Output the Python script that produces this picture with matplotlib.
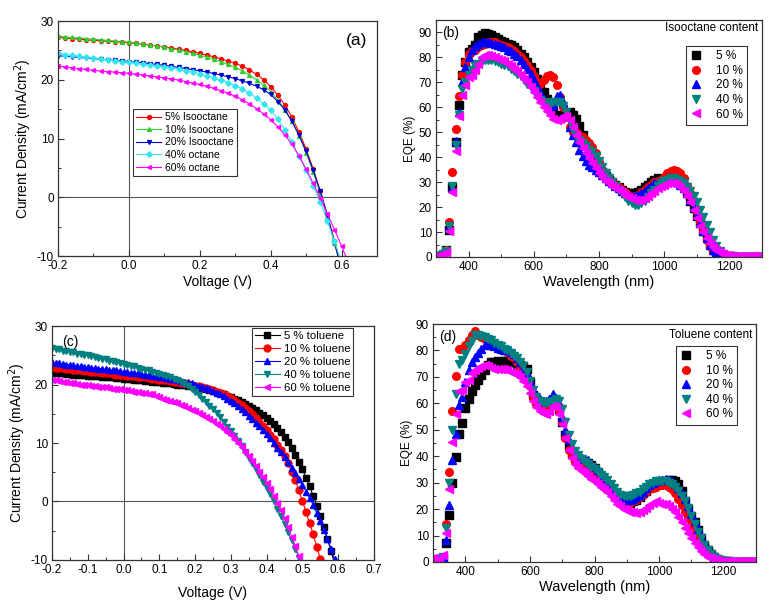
import numpy as np
import matplotlib
matplotlib.use('Agg')
import matplotlib.pyplot as plt
from matplotlib.ticker import MultipleLocator

plt.rcParams['font.family'] = ['Liberation Sans', 'DejaVu Sans']
plt.rcParams['axes.unicode_minus'] = False

# ---------------- panel (a): J-V, isooctane ----------------
volt_a = np.linspace(-0.2, 0.62, 42)
labels_a = ['5% Isooctane', '10% Isooctane', '20% Isooctane', '40% octane', '60% octane']
jv_a_5 = [27.2, 27.1, 27.0, 26.9, 26.8, 26.7, 26.65, 26.55, 26.5, 26.4,
          26.3, 26.2, 26.05, 25.9, 25.75, 25.6, 25.4, 25.2, 25.0, 24.75,
          24.5, 24.2, 23.9, 23.55, 23.2, 22.8, 22.3, 21.7, 20.9, 20.0,
          18.8, 17.4, 15.7, 13.6, 11.1, 8.2, 4.8, 1.0, -3.0, -7.4,
          -12.0, -16.8]
jv_a_10 = [27.4, 27.3, 27.2, 27.1, 27.0, 26.9, 26.8, 26.7, 26.6, 26.5,
           26.4, 26.25, 26.1, 25.95, 25.75, 25.55, 25.3, 25.05, 24.8, 24.5,
           24.2, 23.85, 23.5, 23.1, 22.6, 22.1, 21.5, 20.8, 20.0, 19.1,
           18.0, 16.6, 14.9, 12.9, 10.5, 7.6, 4.3, 0.6, -3.4, -7.8,
           -12.4, -17.2]
jv_a_20 = [24.1, 24.0, 23.9, 23.8, 23.7, 23.6, 23.5, 23.4, 23.3, 23.2,
           23.1, 23.0, 22.9, 22.75, 22.6, 22.45, 22.3, 22.1, 21.9, 21.7,
           21.5, 21.3, 21.05, 20.8, 20.5, 20.2, 19.8, 19.4, 18.9, 18.3,
           17.5, 16.3, 14.9, 12.9, 10.6, 7.8, 4.6, 1.0, -3.1, -7.7,
           -12.5, -17.5]
jv_a_40 = [24.5, 24.3, 24.15, 24.0, 23.85, 23.7, 23.55, 23.4, 23.25, 23.1,
           22.95, 22.8, 22.65, 22.5, 22.35, 22.2, 22.0, 21.8, 21.55, 21.3,
           21.0, 20.7, 20.35, 19.95, 19.5, 19.0, 18.4, 17.7, 16.9, 15.9,
           14.8, 13.3, 11.5, 9.4, 7.0, 4.6, 2.0, -0.8, -4.0, -7.5,
           -11.2, -15.0]
jv_a_60 = [22.3, 22.2, 22.05, 21.9, 21.75, 21.6, 21.5, 21.4, 21.3, 21.2,
           21.1, 20.95, 20.8, 20.65, 20.5, 20.35, 20.15, 19.95, 19.7, 19.45,
           19.2, 18.9, 18.55, 18.15, 17.7, 17.2, 16.6, 15.9, 15.1, 14.2,
           13.2, 12.0, 10.6, 9.0, 7.0, 4.8, 2.4, -0.2, -2.8, -5.5,
           -8.3, -11.3]

# ---------------- panel (c): J-V, toluene ----------------
volt_c = np.linspace(-0.2, 0.6, 81)
labels_c = ['5 % toluene', '10 % toluene', '20 % toluene', '40 % toluene', '60 % toluene']
jv_c_5 = [22.0, 22.0, 21.9, 21.9, 21.8, 21.8, 21.7, 21.7, 21.6, 21.6,
          21.5, 21.5, 21.4, 21.4, 21.3, 21.3, 21.2, 21.2, 21.1, 21.1,
          21.0, 20.95, 20.9, 20.85, 20.8, 20.7, 20.65, 20.6, 20.5, 20.45,
          20.4, 20.3, 20.25, 20.2, 20.1, 20.0, 19.95, 19.9, 19.8, 19.7,
          19.6, 19.5, 19.4, 19.3, 19.1, 18.9, 18.7, 18.5, 18.3, 18.1,
          17.8, 17.6, 17.3, 17.0, 16.7, 16.4, 16.0, 15.6, 15.2, 14.8,
          14.3, 13.8, 13.2, 12.5, 11.8, 11.0, 10.1, 9.1, 8.0, 6.8,
          5.5, 4.1, 2.6, 1.0, -0.7, -2.5, -4.4, -6.4, -8.5, -10.7,
          -13.0]
jv_c_10 = [23.0, 22.9, 22.8, 22.8, 22.7, 22.6, 22.5, 22.5, 22.4, 22.3,
           22.3, 22.2, 22.1, 22.1, 22.0, 21.9, 21.9, 21.8, 21.7, 21.7,
           21.6, 21.5, 21.5, 21.4, 21.3, 21.2, 21.2, 21.1, 21.0, 20.9,
           20.8, 20.8, 20.7, 20.6, 20.5, 20.4, 20.3, 20.2, 20.1, 20.0,
           19.8, 19.7, 19.5, 19.4, 19.2, 19.0, 18.8, 18.6, 18.3, 18.0,
           17.7, 17.3, 16.9, 16.5, 16.0, 15.5, 14.9, 14.3, 13.6, 12.9,
           12.2, 11.4, 10.6, 9.7, 8.8, 7.7, 6.5, 5.1, 3.6, 1.9,
           0.1, -1.8, -3.7, -5.6, -7.7, -9.8, -12.0, -14.2, -16.4, -18.6,
           -20.8]
jv_c_20 = [23.8, 23.7, 23.6, 23.5, 23.4, 23.4, 23.3, 23.2, 23.1, 23.0,
           23.0, 22.9, 22.8, 22.7, 22.7, 22.6, 22.5, 22.4, 22.4, 22.3,
           22.2, 22.1, 22.0, 22.0, 21.9, 21.8, 21.7, 21.6, 21.5, 21.4,
           21.3, 21.2, 21.1, 21.0, 20.9, 20.8, 20.6, 20.5, 20.4, 20.2,
           20.0, 19.8, 19.6, 19.4, 19.2, 18.9, 18.6, 18.3, 18.0, 17.6,
           17.2, 16.8, 16.3, 15.8, 15.3, 14.7, 14.1, 13.5, 12.9, 12.2,
           11.5, 10.8, 10.0, 9.2, 8.4, 7.6, 6.7, 5.8, 4.8, 3.8,
           2.8, 1.7, 0.6, -0.6, -1.9, -3.3, -4.8, -6.4, -8.1, -9.9,
           -11.8]
jv_c_40 = [26.2, 26.1, 26.0, 25.8, 25.7, 25.6, 25.5, 25.3, 25.2, 25.1,
           25.0, 24.8, 24.7, 24.6, 24.4, 24.3, 24.1, 24.0, 23.8, 23.7,
           23.5, 23.4, 23.2, 23.1, 22.9, 22.7, 22.5, 22.4, 22.2, 22.0,
           21.8, 21.6, 21.4, 21.2, 21.0, 20.7, 20.4, 20.1, 19.7, 19.2,
           18.7, 18.2, 17.6, 17.0, 16.4, 15.8, 15.1, 14.4, 13.6, 12.8,
           12.0, 11.2, 10.4, 9.5, 8.5, 7.5, 6.5, 5.5, 4.5, 3.4,
           2.3, 1.2, 0.0, -1.2, -2.5, -3.8, -5.2, -6.6, -8.1, -9.6,
           -11.1, -12.7, -14.3, -15.9, -17.5, -19.1, -20.7, -22.3, -23.9, -25.5,
           -27.1]
jv_c_60 = [20.8, 20.7, 20.6, 20.5, 20.4, 20.3, 20.2, 20.1, 20.0, 19.9,
           19.9, 19.8, 19.7, 19.6, 19.6, 19.5, 19.4, 19.3, 19.2, 19.2,
           19.1, 19.0, 18.9, 18.8, 18.7, 18.6, 18.5, 18.4, 18.3, 18.1,
           17.8, 17.6, 17.4, 17.2, 17.0, 16.8, 16.5, 16.3, 16.0, 15.7,
           15.4, 15.1, 14.8, 14.5, 14.1, 13.7, 13.3, 12.9, 12.4, 11.9,
           11.3, 10.7, 10.0, 9.3, 8.5, 7.7, 6.9, 6.0, 5.1, 4.2,
           3.2, 2.1, 1.0, -0.2, -1.5, -2.9, -4.4, -6.0, -7.6, -9.3,
           -11.0, -12.8, -14.6, -16.4, -18.2, -20.0, -22.0, -24.0, -26.0, -28.0,
           -30.0]

# ---------------- panel (b): EQE, isooctane ----------------
wl = np.arange(300, 1301, 10)
pct_labels = ['5 %', '10 %', '20 %', '40 %', '60 %']
eqe_b_5 = [0.5, 0.5, 0.8, 3, 11, 28, 46, 61, 73, 78,
           82, 83.5, 85, 88, 89, 89.8, 89.5, 89, 88, 87.5,
           86.5, 86, 85.5, 85, 84, 83, 81.5, 80, 78, 76,
           74, 71.5, 68.5, 66, 63.5, 61, 59, 57, 56, 56.5,
           57.5, 58, 57, 55.5, 52.5, 49, 45.5, 42.5, 40, 38,
           36, 34, 32.5, 31, 30, 29, 28, 27, 26, 25.5,
           25.5, 25.5, 26, 27, 28, 29, 30, 31, 31.5, 31,
           30.5, 30.5, 31, 31.5, 31, 30, 28, 25.5, 22.5, 19.5,
           16.5, 13.5, 10.5, 8, 5.5, 3.5, 2, 1, 0.5, 0.2,
           0, 0, 0, 0, 0, 0, 0, 0, 0, 0,
           0]
eqe_b_10 = [0.5, 0.5, 1, 3, 14, 34, 51.5, 64.5, 73, 78,
            81.5, 82.5, 83, 84, 85, 85.5, 86, 86, 86, 85.5,
            85, 84.5, 84, 83.5, 82.5, 81.5, 80, 78.5, 77, 75,
            72.5, 70, 69.5, 71, 72.5, 73, 72, 69, 64, 60,
            56, 52, 50, 50, 49, 48, 47, 45.5, 44, 41.5,
            38, 35, 33, 31, 30, 29, 28, 27, 26, 25,
            24.5, 24.5, 25, 26, 27, 28, 29, 30, 30.5, 31,
            32, 33.5, 34.5, 35, 34.5, 33.5, 31.5, 28.5, 25.5, 22,
            18, 14, 10.5, 7, 4.5, 2.5, 1.2, 0.5, 0.2, 0,
            0, 0, 0, 0, 0, 0, 0, 0, 0, 0,
            0]
eqe_b_20 = [0.5, 0.5, 1, 2.5, 12, 27.5, 46.5, 58, 70, 76,
            80, 83, 84.5, 85.5, 86, 86, 86, 85.8, 85.5, 85,
            84.5, 84, 83, 82.5, 81.5, 80.5, 79, 77.5, 75.5, 73.5,
            71, 68.5, 66, 63.5, 61.5, 60, 61, 64.5, 65, 62,
            57, 52, 49, 46, 43, 40.5, 38.5, 37, 36, 35,
            34, 33, 31.5, 30.5, 29.5, 28.5, 27.5, 26.5, 25.5, 25,
            24.5, 24.5, 25, 25.5, 26.5, 27.5, 28.5, 29.5, 30, 30,
            30, 30, 30.5, 30.5, 30, 29, 27.5, 25.5, 23, 20,
            17, 13.5, 10.5, 7.5, 5, 3, 1.8, 1, 0.5, 0.2,
            0, 0, 0, 0, 0, 0, 0, 0, 0, 0,
            0]
eqe_b_40 = [0.5, 0.5, 1, 2.5, 12.5, 28.5, 45, 57, 67.5, 70,
            73, 75, 76.5, 77.5, 78.5, 79, 79, 79, 78.5, 78,
            77.5, 77, 76.5, 75.5, 74.5, 73.5, 72.5, 71, 69.5, 68,
            66.5, 64.5, 63, 62, 61.5, 61.5, 62, 62, 62, 60.5,
            58, 54, 51, 48.5, 47, 45.5, 44.5, 43, 42, 40.5,
            38.5, 36, 33.5, 31.5, 30, 28.5, 27, 25.5, 24, 22.5,
            21.5, 21, 21, 21.5, 22.5, 24, 25.5, 27, 28.5, 29.5,
            30.5, 31, 31.5, 31.5, 31, 30.5, 29.5, 28, 26.5, 24.5,
            22, 19, 16, 13, 10, 7, 4.5, 2.5, 1.2, 0.5,
            0.3, 0.2, 0, 0, 0, 0, 0, 0, 0, 0,
            0]
eqe_b_60 = [0.5, 0.5, 1, 2, 10.5, 26, 42.5, 56.5, 65, 69,
            72, 73, 75, 77.5, 80, 81, 81, 80.5, 80, 79.5,
            79, 78.5, 77.5, 76.5, 75.5, 74.5, 73, 71.5, 70, 68,
            66, 64, 62, 60, 58.5, 57, 55.5, 55, 55.5, 56.5,
            56.5, 55, 52, 49, 46, 43.5, 41.5, 39.5, 37.5, 35.5,
            33.5, 32, 30.5, 29.5, 28.5, 27.5, 27, 26, 25, 24,
            23.5, 23, 23, 23, 23.5, 24.5, 25.5, 26.5, 27.5, 28.5,
            29, 29.5, 29.5, 29.5, 29, 28, 26.5, 24.5, 22, 19,
            15.5, 12.5, 10, 7.5, 5.5, 4, 2.8, 1.8, 1.2, 0.8,
            0.6, 0.5, 0.5, 0.4, 0.3, 0.3, 0.2, 0.2, 0.2, 0.2,
            0.2]

# ---------------- panel (d): EQE, toluene ----------------
eqe_d_5 = [0.5, 0.5, 0.8, 1.5, 7, 17.7, 30, 39.8, 48.3, 52.7,
           58.1, 61.8, 64.6, 67, 68.9, 70.7, 72.7, 74.6, 75.5, 75.7,
           76, 75.8, 76, 76, 75.8, 75.5, 75, 74.5, 74, 73,
           68, 63, 61, 60, 59, 59, 59.5, 60, 60, 58,
           53, 48, 44, 41, 39.5, 39, 38.5, 38, 37.5, 36.5,
           35.5, 34, 32, 30, 29, 27.5, 26, 24.5, 23.5, 23,
           22.5, 22.5, 23, 23.5, 24.5, 26, 27, 28, 28.5, 29,
           29.5, 30, 30.5, 31, 31, 30.5, 29.5, 27, 23, 20,
           17.5, 15, 12, 9, 6.5, 4.5, 3, 2, 1.2, 0.7,
           0.4, 0.2, 0.1, 0, 0, 0, 0, 0, 0, 0,
           0]
eqe_d_10 = [1, 0.5, 1, 2, 14.2, 34, 57, 70.3, 80.5, 80.5,
            82, 84, 86, 87.3, 86, 85, 84.5, 84, 83.5, 82.5,
            81.5, 81, 80.5, 79.5, 78, 77, 75.5, 74, 72, 70,
            66.5, 62, 60, 59, 58.5, 58.5, 59.5, 60, 60, 57.5,
            53, 47, 42.5, 40, 38, 36.5, 35.5, 34.5, 33.5, 32.5,
            31.5, 30.5, 29.5, 28.5, 27.5, 26.5, 25, 24, 23, 22.5,
            22.5, 22.5, 23, 23.5, 24.5, 25.5, 26.5, 27.5, 28, 28.5,
            29, 29, 29, 28.5, 27.5, 26, 24, 21.5, 19, 16.5,
            14, 11.5, 9, 7, 5, 3.5, 2.2, 1.3, 0.8, 0.5,
            0.3, 0.2, 0.2, 0.1, 0, 0, 0, 0, 0, 0,
            0]
eqe_d_20 = [0.5, 0.5, 1, 2, 8.5, 21.5, 38.5, 48.5, 59.5, 62.5,
            68, 72.5, 75.5, 77.5, 79, 80.5, 82, 82.5, 82, 81.5,
            81, 80.5, 80, 80, 79.5, 78.5, 77, 75.5, 73.5, 71.5,
            68.5, 65, 62.5, 61.5, 61, 61, 61.5, 63.5, 62, 60,
            55, 50, 46, 43, 41, 40, 39.5, 39, 38.5, 37,
            36, 34.5, 33, 31.5, 30, 28.5, 27, 25.5, 24.5, 24,
            23.5, 23.5, 24, 24.5, 25.5, 26.5, 28, 29, 30, 30.5,
            31, 31, 31.5, 31, 30.5, 29.5, 28, 26, 24, 21,
            18, 15.5, 12.5, 9.5, 7, 5, 3.3, 2, 1.2, 0.7,
            0.4, 0.2, 0.2, 0.1, 0, 0, 0, 0, 0, 0,
            0]
eqe_d_40 = [0.5, 0.5, 1, 2, 13, 30, 50, 63.5, 75, 76.5,
            78.5, 81.5, 83.5, 86, 86, 85.5, 85, 84.5, 84, 83,
            82, 81.5, 80.5, 80, 79, 78, 77, 75.5, 74, 72,
            68.5, 65, 62.5, 61, 60.5, 60, 60.5, 61, 61.5, 61,
            58, 53, 48, 44.5, 42, 40.5, 39, 38, 37, 36,
            35, 34, 33, 32, 31, 29.5, 28, 26.5, 25.5, 25,
            25, 25, 25.5, 26, 26.5, 27.5, 28.5, 29.5, 30, 30.5,
            30.5, 30.5, 30.5, 30, 29.5, 28.5, 27, 25, 23, 20.5,
            17.5, 14.5, 11.5, 9, 6.5, 4.5, 3, 2, 1.2, 0.7,
            0.4, 0.2, 0.2, 0.1, 0, 0, 0, 0, 0, 0,
            0]
eqe_d_60 = [1.5, 0.5, 1, 2.5, 11, 27.5, 45.5, 56, 64.5, 65,
            68, 69, 71.5, 72.5, 73.5, 74, 74.5, 74, 73.5, 73,
            73, 73, 73, 72.5, 72, 71.5, 71, 70, 68.5, 66.5,
            64, 61, 58.5, 57, 56.5, 56, 57, 59, 58.5, 56,
            52, 47, 42.5, 39.5, 37, 35.5, 34.5, 33.5, 32.5, 31.5,
            30.5, 29.5, 28.5, 27.5, 26.5, 25, 23.5, 22, 21, 20,
            19.5, 19, 19, 18.5, 19, 19.5, 20.5, 21.5, 22.5, 23,
            22.5, 22, 22, 21, 20, 19, 17, 15, 13, 11,
            9, 7, 5.5, 4, 3, 2, 1.4, 1, 0.7, 0.5,
            0.4, 0.4, 0.4, 0.3, 0.3, 0.3, 0.3, 0.3, 0.3, 0.3,
            0.3]

# styling
col_a = ['#ff0000', '#33cc33', '#0000cc', '#33e6f0', '#ff00ff']
mk_a = ['o', '^', 'v', 'D', '<']
col_eqe = ['#000000', '#ff0000', '#0000ff', '#008080', '#ff00ff']
mk_eqe = ['s', 'o', '^', 'v', '<']

fig = plt.figure(figsize=(7.78, 6.11), dpi=100)
ax_a = fig.add_axes([0.0746, 0.581, 0.410, 0.3846])
ax_b = fig.add_axes([0.5604, 0.5794, 0.419, 0.3879])
ax_c = fig.add_axes([0.0668, 0.0835, 0.4139, 0.3829])
ax_d = fig.add_axes([0.5566, 0.0802, 0.4151, 0.3895])


def style_axes(ax):
    for sp in ax.spines.values():
        sp.set_linewidth(0.9)
        sp.set_color('#333333')
    ax.tick_params(which='both', direction='in', top=False, right=False,
                   labelsize=8.5, color='#333333', pad=3)
    ax.tick_params(which='major', length=4, width=0.8)
    ax.tick_params(which='minor', length=2.2, width=0.7)


# (a)
for ys, lab, c, m in zip([jv_a_5, jv_a_10, jv_a_20, jv_a_40, jv_a_60], labels_a, col_a, mk_a):
    ax_a.plot(volt_a, ys, color=c, marker=m, markersize=2.8, linewidth=0.8, label=lab)
ax_a.axhline(0, color='#555555', linewidth=0.8, zorder=0)
ax_a.axvline(0, color='#555555', linewidth=0.8, zorder=0)
ax_a.set_xlim(-0.2, 0.7)
ax_a.set_ylim(-10, 30)
ax_a.xaxis.set_minor_locator(MultipleLocator(0.1))
ax_a.yaxis.set_major_locator(MultipleLocator(10))
ax_a.yaxis.set_minor_locator(MultipleLocator(5))
ax_a.set_xticks([-0.2, 0.0, 0.2, 0.4, 0.6])
ax_a.set_xticklabels(['-0.2', '0.0', '0.2', '0.4', '0.6'])
ax_a.set_xlabel('Voltage (V)', fontsize=10, labelpad=2)
ax_a.set_ylabel('Current Density (mA/cm$^2$)', fontsize=10, labelpad=2)
ax_a.text(0.97, 0.95, '(a)', transform=ax_a.transAxes, fontsize=12.5, ha='right', va='top')
leg = ax_a.legend(loc='upper left', bbox_to_anchor=(0.235, 0.625), fontsize=7.5, frameon=True,
                  fancybox=False, edgecolor='black', handlelength=2.4, labelspacing=0.25,
                  borderpad=0.3, handletextpad=0.4, borderaxespad=0)
leg.get_frame().set_linewidth(0.8)
style_axes(ax_a)

# (c)
for ys, lab, c, m in zip([jv_c_5, jv_c_10, jv_c_20, jv_c_40, jv_c_60], labels_c, col_eqe, mk_eqe):
    ax_c.plot(volt_c, ys, color=c, marker=m, markersize=5, linewidth=0.8, label=lab)
ax_c.axhline(0, color='#555555', linewidth=0.8, zorder=0)
ax_c.axvline(0, color='#555555', linewidth=0.8, zorder=0)
ax_c.set_xlim(-0.2, 0.7)
ax_c.set_ylim(-10, 30)
ax_c.set_xticks(np.linspace(-0.2, 0.7, 10))
ax_c.set_xticklabels(['-0.2', '-0.1', '0.0', '0.1', '0.2', '0.3', '0.4', '0.5', '0.6', '0.7'])
ax_c.xaxis.set_minor_locator(MultipleLocator(0.05))
ax_c.yaxis.set_major_locator(MultipleLocator(10))
ax_c.yaxis.set_minor_locator(MultipleLocator(5))
ax_c.set_xlabel('Voltage (V)', fontsize=10, labelpad=7)
ax_c.set_ylabel('Current Density (mA/cm$^2$)', fontsize=10, labelpad=2)
ax_c.text(0.03, 0.96, '(c)', transform=ax_c.transAxes, fontsize=10, ha='left', va='top')
leg = ax_c.legend(loc='upper right', bbox_to_anchor=(0.935, 0.99), fontsize=8.2, frameon=True,
                  fancybox=False, edgecolor='black', handlelength=2.2, labelspacing=0.28,
                  borderpad=0.2, handletextpad=0.4, borderaxespad=0)
leg.get_frame().set_linewidth(0.8)
style_axes(ax_c)

# (b) and (d)
for ax, series, title, tag, leg_anchor, title_y in [
        (ax_b, [eqe_b_5, eqe_b_10, eqe_b_20, eqe_b_40, eqe_b_60], 'Isooctane content', '(b)',
         (0.954, 0.89), 0.966),
        (ax_d, [eqe_d_5, eqe_d_10, eqe_d_20, eqe_d_40, eqe_d_60], 'Toluene content', '(d)',
         (0.941, 0.908), 0.954)]:
    for ys, lab, c, m in zip(series, pct_labels, col_eqe, mk_eqe):
        ax.plot(wl, ys, linestyle='none', color=c, marker=m, markersize=5.5, label=lab)
    ax.set_xlim(300, 1300)
    ax.xaxis.set_major_locator(MultipleLocator(200))
    ax.xaxis.set_minor_locator(MultipleLocator(100))
    ax.yaxis.set_major_locator(MultipleLocator(10))
    ax.yaxis.set_minor_locator(MultipleLocator(5))
    ax.set_xlabel('Wavelength (nm)', fontsize=10.5, labelpad=1)
    ax.set_ylabel('EQE (%)', fontsize=8.5, labelpad=2)
    ax.text(0.988, title_y, title, transform=ax.transAxes, fontsize=8.5, ha='right', va='center')
    ax.text(0.02, 0.975, tag, transform=ax.transAxes, fontsize=10, ha='left', va='top')
    leg = ax.legend(loc='upper right', bbox_to_anchor=leg_anchor, fontsize=8.5, frameon=True,
                    fancybox=False, edgecolor='black', handlelength=1.0, labelspacing=0.22,
                    borderpad=0.35, handletextpad=1.2, borderaxespad=0)
    leg.get_frame().set_linewidth(0.8)
    style_axes(ax)
ax_b.set_ylim(0, 95)
ax_d.set_ylim(0, 90)

fig.savefig('out.png', dpi=100)
